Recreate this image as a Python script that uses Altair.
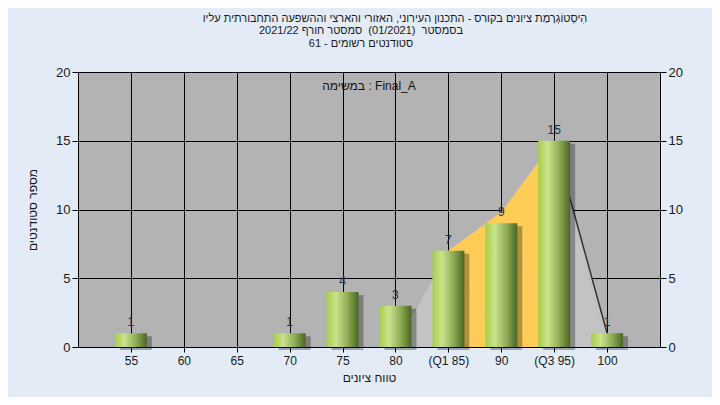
import altair as alt
import pandas as pd

# ---- data ----
categories = ["55", "60", "65", "70", "75", "80", "(Q1 85)", "90", "(Q3 95)", "100"]
counts = [1, 0, 0, 1, 4, 3, 7, 9, 15, 1]

curve_cats = ["80", "(Q1 85)", "90", "(Q3 95)", "100"]
curve_vals = [0, 7, 9.8, 15, 1]

iqr_cats = ["(Q1 85)", "90", "(Q3 95)"]
iqr_vals = [7, 9.8, 15]

tail_cats = ["(Q3 95)", "100"]
tail_vals = [15, 1]

title_line = "הִיסְטוֹגְרָמַת ציונים בקורס - התכנון העירוני, האזורי והארצי וההשפעה התחבורתית עליו"
sub_lines = [
    "בסמסטר\u00a0 (01/2021)\u00a0 סמסטר חורף 2021/22",
    "סטודנטים רשומים - 61",
]
annotation = "במשימה : Final_A"
x_title = "טווח ציונים"
y_title = "מספר סטודנטים"
y_ticks = [0, 5, 10, 15, 20]

FONT = "Liberation Sans"

bars_df = pd.DataFrame({"cat": categories, "count": counts,
                        "idx": list(range(len(categories)))})
bars_df = bars_df[bars_df["count"] > 0]

def series(cats, vals):
    return pd.DataFrame({"cat": cats, "count": vals,
                         "idx": [categories.index(c) for c in cats]})

curve_df = series(curve_cats, curve_vals)
iqr_df = series(iqr_cats, iqr_vals)
tail_df = series(tail_cats, tail_vals)

xscale = alt.Scale(type="point", domain=categories, padding=1)
yscale = alt.Scale(domain=[0, 20])

x_axis = alt.Axis(title=x_title, grid=True, gridColor="black", gridOpacity=1,
                  domainColor="black", tickColor="black", tickSize=5,
                  labelColor="#1a1a1a", labelFont=FONT, labelFontSize=12,
                  labelAngle=0, labelPadding=3, titleFont=FONT, titleFontSize=12,
                  titleFontWeight="normal", titleColor="#1a1a1a", titlePadding=6)
y_axis_left = alt.Axis(title=y_title, orient="left", values=y_ticks, grid=True,
                       gridColor="black", gridOpacity=1, domainColor="black",
                       tickColor="black", tickSize=6, labelColor="#1a1a1a",
                       labelFont=FONT, labelFontSize=13, labelPadding=2,
                       titleFont=FONT, titleFontSize=12, titleFontWeight="normal",
                       titleColor="#1a1a1a", titlePadding=16)
y_axis_right = alt.Axis(title=None, orient="right", values=y_ticks, grid=False,
                        domainColor="black", tickColor="black", tickSize=6,
                        labelColor="#1a1a1a", labelFont=FONT, labelFontSize=13,
                        labelPadding=2)

Xp = alt.X("cat:N", scale=xscale, sort=categories)

area_gray = alt.Chart(curve_df).mark_area(color="#c3c3c3", opacity=1).encode(
    x=alt.X("cat:N", scale=xscale, axis=x_axis, sort=categories),
    y=alt.Y("count:Q", scale=yscale, axis=y_axis_left), order="idx:Q")
area_yellow = alt.Chart(iqr_df).mark_area(color="#ffcc55", opacity=1).encode(
    x=Xp, y=alt.Y("count:Q", scale=yscale, axis=None), order="idx:Q")
tail_line = alt.Chart(tail_df).mark_line(color="#333333", strokeWidth=1.5).encode(
    x=Xp, y=alt.Y("count:Q", scale=yscale, axis=None), order="idx:Q")

shadow = alt.Chart(bars_df).mark_bar(size=32, color="#000000", opacity=0.3,
                                     xOffset=5, yOffset=3).encode(
    x=Xp, y=alt.Y("count:Q", scale=yscale, axis=None))

grad = alt.Gradient(gradient="linear", x1=0, x2=1, y1=0, y2=0, stops=[
    alt.GradientStop(color="#a6cf45", offset=0),
    alt.GradientStop(color="#cbe28c", offset=0.3),
    alt.GradientStop(color="#8fae55", offset=0.65),
    alt.GradientStop(color="#4b6620", offset=1),
])
bars = alt.Chart(bars_df).mark_bar(size=32, color=grad).encode(
    x=Xp, y=alt.Y("count:Q", scale=yscale, axis=None))

labels = alt.Chart(bars_df).mark_text(baseline="bottom", dy=-4, font=FONT,
                                      fontSize=12, color="#1f2f4a").encode(
    x=Xp, y=alt.Y("count:Q", scale=yscale, axis=y_axis_right),
    text="count:Q")

note = alt.Chart(pd.DataFrame({"t": [annotation]})).mark_text(
    font=FONT, fontSize=12, color="#111111", baseline="middle").encode(
    x=alt.value(291), y=alt.value(14), text="t:N")

sub_df = pd.DataFrame({"t": sub_lines, "row": [0, 1]})
subtitle = alt.Chart(sub_df).mark_text(
    font=FONT, fontSize=11, color="#1a1a1a", baseline="middle").encode(
    x=alt.value(283),
    y=alt.Y("row:Q", scale=alt.Scale(domain=[0, 1], range=[-41, -28]), axis=None),
    text="t:N")

chart = alt.layer(area_gray, area_yellow, tail_line, shadow, bars, labels, note,
                  subtitle).resolve_scale(y="independent").properties(
    width=582, height=275,
    padding={"left": 70, "top": 64, "right": 52, "bottom": 50},
    autosize=alt.AutoSizeParams(type="none"),
    background="#e2ebf6",
    title=alt.TitleParams(text=title_line, anchor="middle",
                          font=FONT, fontSize=11, fontWeight="normal",
                          color="#1a1a1a", offset=1, dx=26),
).configure_view(fill="#b3b3b3", stroke="black", strokeWidth=1)

chart.save("out.html", embed_options={"renderer": "svg", "actions": False})
